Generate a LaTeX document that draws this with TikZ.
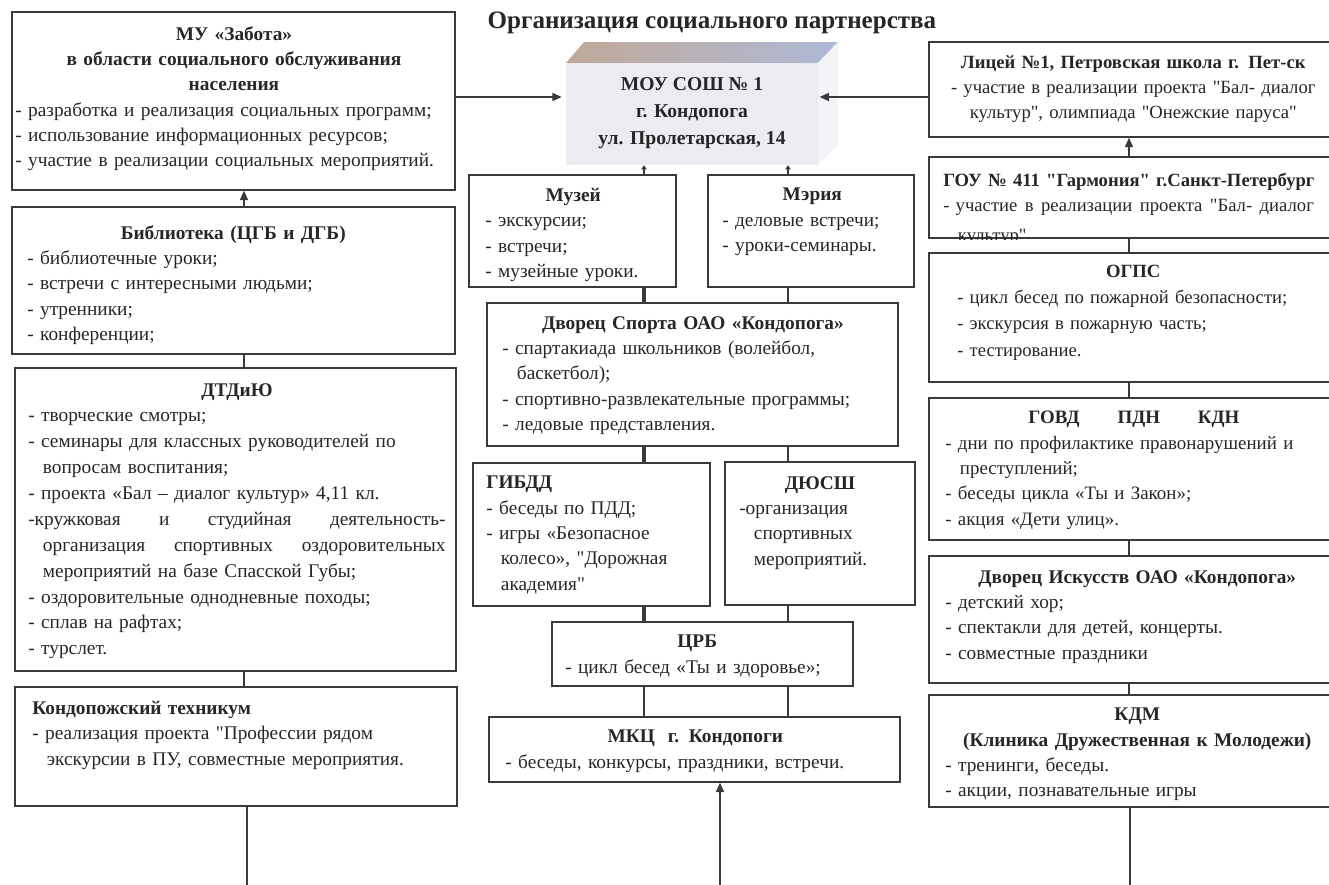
\documentclass[tikz,border=0pt]{standalone}
\usepackage{fontspec}
\setmainfont{Liberation Serif}[Ligatures=TeXOff]
\usetikzlibrary{positioning,fit,calc,arrows.meta}
\definecolor{ink}{HTML}{262626}
\definecolor{edge}{HTML}{3A3A3A}
\definecolor{moufront}{HTML}{ECEBF2}
\definecolor{mouside}{HTML}{F4F4F8}
\definecolor{toptan}{HTML}{BFA999}
\definecolor{toppink}{HTML}{C9A9AE}
\definecolor{topblue}{HTML}{AEB9D6}
\newcommand{\fs}{\fontsize{14.5}{19}\selectfont}
\newcommand{\fsn}{\fontsize{14}{19}\selectfont}
\newcommand{\hd}[1]{{\centering\bfseries #1\par}}
\newcommand{\cl}[1]{{\centering #1\par}}
\newcommand{\ind}{\hspace*{11pt}}

\begin{document}
\begin{tikzpicture}[x=0.75pt,y=-0.75pt]
\tikzstyle{box}=[draw=edge, line width=1.1pt, inner sep=0pt]
\tikzstyle{txt}=[anchor=north west, inner sep=0pt, align=left, font=\fs, text=ink]
\tikzstyle{link}=[draw=edge, line width=1.1pt]
\tikzstyle{thick link}=[draw=edge, line width=2.4pt]
\tikzstyle{arr}=[link, -{Triangle[length=7pt,width=6pt]}]
\tikzstyle{small arr}=[link, -{Triangle[length=3pt,width=4pt]}]
\useasboundingbox (0,0) rectangle (1329,885);

\node[font=\fontsize{18.8}{22}\selectfont\bfseries, text=ink] (title) at (712,23) {Организация социального партнерства};

\shade[left color=toptan, middle color=toppink, right color=topblue] (566,63) -- (584,42) -- (838,42) -- (818,63) -- cycle;
\fill[mouside] (818,63) -- (838,42) -- (838,145) -- (818,165) -- cycle;
\node[fill=moufront, inner sep=0pt, fit={(566,63) (818,165)}] (mou) {};
\node[font=\fontsize{14.7}{20.3}\selectfont\bfseries, text=ink, align=center] (mout) at (692,113) {МОУ СОШ № 1\\ г. Кондопога\\ ул. Пролетарская, 14};

\node[box, fit={(12,12) (455,190)}] (zab) {};
\node[txt, text width=328pt] (zabt) at (15,26) {\hd{МУ «Забота»}\hd{в области социального обслуживания}\hd{населения}
- разработка и реализация социальных программ;\par
- использование информационных ресурсов;\par
- участие в реализации социальных мероприятий.};

\node[box, fit={(12,207) (455,354)}] (bib) {};
\node[txt, text width=309pt] (bibt) at (27,225) {\hd{Библиотека (ЦГБ и ДГБ)}
- библиотечные уроки;\par
- встречи с интересными людьми;\par
- утренники;\par
- конференции;};

\node[box, fit={(15,368) (456,671)}] (dtd) {};
\node[txt, font=\fontsize{14.5}{19.4}\selectfont, text width=313pt] (dtdt) at (28,383) {\hd{ДТДиЮ}
- творческие смотры;\par
- семинары для классных руководителей по\\ \ind вопросам воспитания;\par
- проекта «Бал – диалог культур» 4,11 кл.\par
-кружковая \hfill и \hfill студийная \hfill деятельность-\\ \ind организация \hfill спортивных \hfill оздоровительных\\ \ind мероприятий на базе Спасской Губы;\par
- оздоровительные однодневные походы;\par
- сплав на рафтах;\par
- турслет.};

\node[box, fit={(15,687) (457,806)}] (tech) {};
\node[txt, text width=300pt] (techt) at (32,701) {\textbf{Кондопожский техникум}\par
- реализация проекта "Профессии рядом\\ \ind экскурсии в ПУ, совместные мероприятия.};

\node[box, fit={(469,175) (676,287)}] (muz) {};
\node[txt, text width=132pt] (muzt) at (485,188) {\hd{Музей}
- экскурсии;\par
- встречи;\par
- музейные уроки.};

\node[box, fit={(708,175) (914,287)}] (mer) {};
\node[txt, text width=135pt] (mert) at (722,188) {\hd{Мэрия}
- деловые встречи;\par
- уроки-семинары.};

\node[box, fit={(487,303) (898,446)}] (dvs) {};
\node[txt, text width=286pt] (dvst) at (502,316) {\hd{Дворец Спорта ОАО «Кондопога»}
- спартакиада школьников (волейбол,\\ \ind баскетбол);\par
- спортивно-развлекательные программы;\par
- ледовые представления.};

\node[box, fit={(473,463) (710,606)}] (gib) {};
\node[txt, text width=161pt] (gibt) at (486,476) {\textbf{ГИБДД}\par
- беседы по ПДД;\par
- игры «Безопасное\\ \ind колесо», "Дорожная\\ \ind академия"};

\node[box, fit={(725,462) (915,605)}] (dyu) {};
\node[txt, text width=121pt] (dyut) at (739,476) {\hd{ДЮСШ}
-организация\\ \ind спортивных\\ \ind мероприятий.};

\node[box, fit={(552,622) (853,686)}] (crb) {};
\node[txt, text width=198pt] (crbt) at (565,635) {\hd{ЦРБ}
- цикл бесед «Ты и здоровье»;};

\node[box, fit={(489,717) (900,782)}] (mkc) {};
\node[txt, text width=285pt] (mkct) at (505,730) {\hd{МКЦ\ \ г. Кондопоги}
- беседы, конкурсы, праздники, встречи.};

\node[box, fit={(929,42) (1340,137)}] (lic) {};
\node[txt, font=\fsn, text width=285pt] (lict) at (943,55) {\hd{Лицей №1, Петровская школа г. Пет-ск}\cl{- участие в реализации проекта "Бал- диалог}\cl{культур", олимпиада "Онежские паруса"}};

\node[box, fit={(929,157) (1340,238)}] (gou) {};
\node[txt, font=\fsn, text width=278pt] (gout) at (943,173) {\mbox{\bfseries ГОУ № 411 "Гармония" г.Санкт-Петербург}\par
- участие \hfill в \hfill реализации \hfill проекта \hfill "Бал- \hfill диалог\\[3pt] \ind культур"};
\fill[white] ($(gou.south west)+(1,1.2)$) rectangle ($(gou.south east)+(-1,14)$);

\node[box, fit={(929,253) (1340,382)}] (ogp) {};
\node[txt, font=\fontsize{14}{19.6}\selectfont, text width=264pt] (ogpt) at (957,265) {\hd{ОГПС}
- цикл бесед по пожарной безопасности;\par
- экскурсия в пожарную часть;\par
- тестирование.};

\node[box, fit={(929,398) (1340,540)}] (gov) {};
\node[txt, font=\fontsize{14.2}{19}\selectfont, text width=283pt] (govt) at (945,411) {\hd{ГОВД\hspace{2em}ПДН\hspace{2em}КДН}
- дни по профилактике правонарушений и\\ \ind преступлений;\par
- беседы цикла «Ты и Закон»;\par
- акция «Дети улиц».};

\node[box, fit={(929,556) (1340,683)}] (dvi) {};
\node[txt, text width=288pt] (dvit) at (945,570) {\hd{Дворец Искусств ОАО «Кондопога»}
- детский хор;\par
- спектакли для детей, концерты.\par
- совместные праздники};

\node[box, fit={(929,695) (1340,807)}] (kdm) {};
\node[txt, text width=288pt] (kdmt) at (945,708) {\hd{КДМ}\hd{(Клиника Дружественная к Молодежи)}
- тренинги, беседы.\par
- акции, познавательные игры};

\coordinate (cl) at (244,0);
\coordinate (cm1) at (644,0);
\coordinate (cm2) at (788,0);
\coordinate (cr) at (1129,0);
\coordinate (ca) at (0,97);
\coordinate (bl) at (247,885);
\coordinate (cb) at (720,885);
\coordinate (br) at (1130,885);

\draw[arr] (bib.north -| cl) -- (zab.south -| cl);
\draw[link] (bib.south -| cl) -- (dtd.north -| cl);
\draw[link] (dtd.south -| cl) -- (tech.north -| cl);
\draw[link] (tech.south -| bl) -- (bl);
\draw[arr, shorten >=3pt] (zab.east |- ca) -- (mou.west |- ca);
\draw[arr, shorten >=1pt] (lic.west |- ca) -- (mou.east |- ca);
\draw[small arr] (muz.north -| cm1) -- (mou.south -| cm1);
\draw[small arr] (mer.north -| cm2) -- (mou.south -| cm2);
\draw[thick link] (muz.south -| cm1) -- (dvs.north -| cm1);
\draw[link] (mer.south -| cm2) -- (dvs.north -| cm2);
\draw[thick link] (dvs.south -| cm1) -- (gib.north -| cm1);
\draw[link] (dvs.south -| cm2) -- (dyu.north -| cm2);
\draw[thick link] (gib.south -| cm1) -- (crb.north -| cm1);
\draw[link] (dyu.south -| cm2) -- (crb.north -| cm2);
\draw[link] (crb.south -| cm1) -- (mkc.north -| cm1);
\draw[link] (crb.south -| cm2) -- (mkc.north -| cm2);
\draw[arr] (cb) -- (mkc.south -| cb);
\draw[arr] (gou.north -| cr) -- (lic.south -| cr);
\draw[link] (gou.south -| cr) -- (ogp.north -| cr);
\draw[link] (ogp.south -| cr) -- (gov.north -| cr);
\draw[link] (gov.south -| cr) -- (dvi.north -| cr);
\draw[link] (dvi.south -| cr) -- (kdm.north -| cr);
\draw[link] (kdm.south -| br) -- (br);
\end{tikzpicture}
\end{document}
